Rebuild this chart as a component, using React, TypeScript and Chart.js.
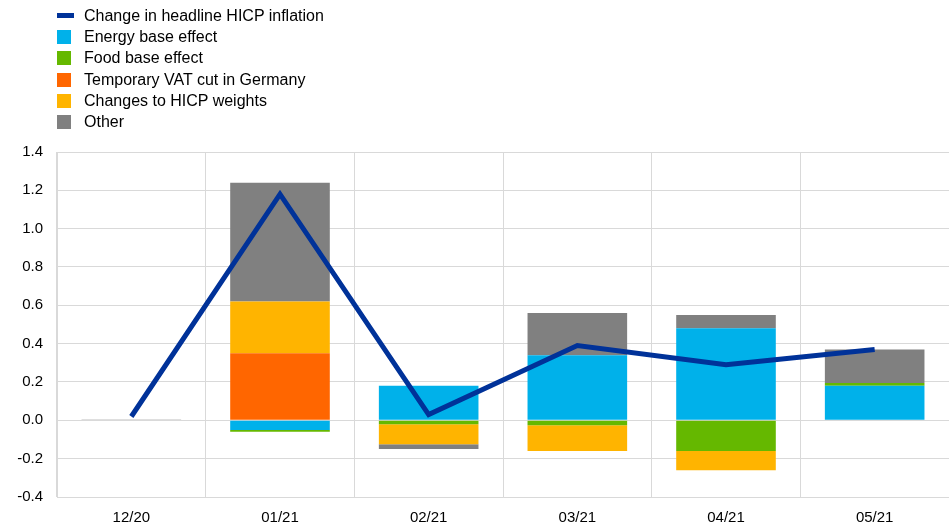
import React, { useEffect, useRef } from "react";
import { Chart, registerables } from "chart.js";

Chart.register(...registerables);

const categories = ["12/20", "01/21", "02/21", "03/21", "04/21", "05/21"];
const headline = [0.02, 1.18, 0.03, 0.39, 0.29, 0.37];
const energyPos = [0, 0, 0.18, 0.34, 0.48, 0.18];
const foodPos = [0, 0, 0, 0, 0, 0.015];
const vatPos = [0, 0.35, 0, 0, 0, 0];
const weightsPos = [0, 0.27, 0, 0, 0, 0];
const otherPos = [0.005, 0.62, 0, 0.22, 0.07, 0.175];
const energyNeg = [0, -0.05, 0, 0, 0, 0];
const foodNeg = [0, -0.01, -0.02, -0.025, -0.16, 0];
const vatNeg = [0, 0, 0, 0, 0, 0];
const weightsNeg = [0, 0, -0.105, -0.135, -0.1, 0];
const otherNeg = [0, 0, -0.025, 0, 0, 0];
const yTicks = [-0.4, -0.2, 0, 0.2, 0.4, 0.6, 0.8, 1.0, 1.2, 1.4];

const BLUE = "#003299";
const ENERGY = "#00b1ea";
const FOOD = "#65b800";
const VAT = "#ff6600";
const WEIGHTS = "#ffb400";
const OTHER = "#808080";

const legendItems = [
  { label: "Change in headline HICP inflation", color: BLUE, line: true },
  { label: "Energy base effect", color: ENERGY },
  { label: "Food base effect", color: FOOD },
  { label: "Temporary VAT cut in Germany", color: VAT },
  { label: "Changes to HICP weights", color: WEIGHTS },
  { label: "Other", color: OTHER },
];

const FONT = "'Liberation Sans', Arial, sans-serif";

export default function App() {
  const ref = useRef<HTMLCanvasElement | null>(null);
  useEffect(() => {
    if (!ref.current) return;
    const bar = (label: string, data: number[], color: string) => ({
      type: "bar" as const,
      label,
      data,
      backgroundColor: color,
      borderWidth: 0,
      stack: "bars",
      order: 2,
      categoryPercentage: 1,
      barPercentage: 0.67,
    });
    const chart = new Chart(ref.current, {
      type: "bar",
      data: {
        labels: categories,
        datasets: [
          {
            type: "line" as const,
            label: "Change in headline HICP inflation",
            data: headline,
            borderColor: BLUE,
            backgroundColor: BLUE,
            borderWidth: 5,
            pointRadius: 0,
            tension: 0,
            stack: "line",
            order: 0,
          } as any,
          bar("Energy base effect", energyPos, ENERGY),
          bar("Food base effect", foodPos, FOOD),
          bar("Temporary VAT cut in Germany", vatPos, VAT),
          bar("Changes to HICP weights", weightsPos, WEIGHTS),
          bar("Other", otherPos, OTHER),
          bar("Energy base effect ", energyNeg, ENERGY),
          bar("Food base effect ", foodNeg, FOOD),
          bar("Temporary VAT cut in Germany ", vatNeg, VAT),
          bar("Changes to HICP weights ", weightsNeg, WEIGHTS),
          bar("Other ", otherNeg, OTHER),
        ],
      },
      options: {
        animation: false,
        responsive: false,
        maintainAspectRatio: false,
        layout: { padding: { top: 152, left: 8, right: 0, bottom: 0 } },
        plugins: { legend: { display: false }, tooltip: { enabled: false } },
        scales: {
          x: {
            stacked: true,
            afterFit: (scale: any) => {
              scale.height = 27;
            },
            grid: { color: "#d9d9d9", offset: true, drawTicks: false },
            border: { color: "#d9d9d9" },
            ticks: { color: "#000", font: { family: FONT, size: 15 }, padding: 12 },
          },
          y: {
            stacked: true,
            min: -0.4,
            max: 1.4,
            afterBuildTicks: (scale: any) => {
              scale.ticks = yTicks.map((v) => ({ value: v }));
            },
            afterFit: (scale: any) => {
              scale.width = 49;
            },
            grid: { color: "#d9d9d9", drawTicks: false },
            border: { color: "#d9d9d9" },
            ticks: {
              color: "#000",
              font: { family: FONT, size: 15 },
              padding: 14,
              callback: (v: any) => Number(v).toFixed(1),
            },
          },
        },
      },
    });
    return () => chart.destroy();
  }, []);

  return (
    <div style={{ position: "fixed", left: 0, top: 0, width: 949, height: 524, background: "#fff" }}>
      <canvas ref={ref} width={949} height={524} style={{ position: "absolute", left: 0, top: 0 }} />
      <div style={{ position: "absolute", left: 57, top: 5, fontFamily: FONT, fontSize: 16, color: "#000" }}>
        {legendItems.map((it) => (
          <div key={it.label} style={{ display: "flex", alignItems: "center", height: 21.3 }}>
            <div style={{ width: it.line ? 17 : 14, height: it.line ? 5 : 14, background: it.color, marginRight: it.line ? 10 : 13 }} />
            <span>{it.label}</span>
          </div>
        ))}
      </div>
    </div>
  );
}
